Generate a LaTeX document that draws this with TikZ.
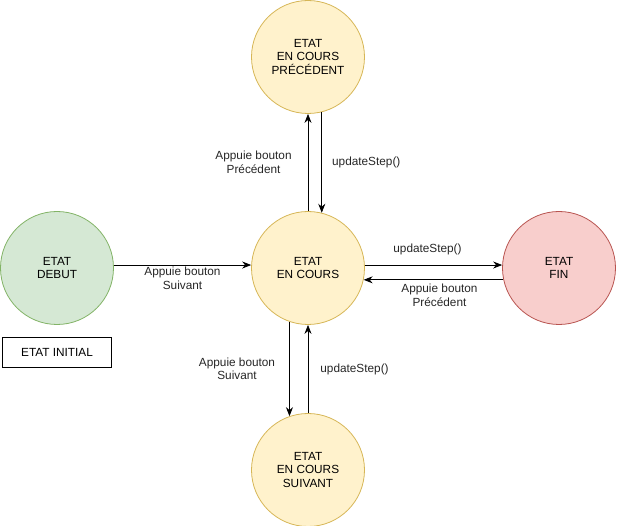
\documentclass[tikz,border=0pt]{standalone}
\usepackage{fontspec}
\setmainfont{Liberation Sans}
\usetikzlibrary{
    arrows.meta, % for the arrow tips
    positioning % for placing nodes relative to other nodes
}

\definecolor{yellowfill}{HTML}{FFF2CC}
\definecolor{yellowdraw}{HTML}{D6B656}
\definecolor{greenfill}{HTML}{D5E8D4}
\definecolor{greendraw}{HTML}{82B366}
\definecolor{redfill}{HTML}{F8CECC}
\definecolor{reddraw}{HTML}{B85450}

\begin{document}
\begin{tikzpicture}[
        on grid,>={Stealth[length=9pt,width=7pt]},
        font=\fontsize{11.8pt}{13.5pt}\selectfont,
        state/.style         = {circle,minimum size=113pt,inner sep=0pt,align=center,line width=0.8pt},
        current state/.style = {state,draw=yellowdraw,fill=yellowfill},
        start state/.style   = {state,draw=greendraw,fill=greenfill},
        end state/.style     = {state,draw=reddraw,fill=redfill},
        step label/.style    = {align=center,inner sep=0pt,text=black!85},
        every edge/.style    = {draw,line width=0.8pt}
    ]
    \useasboundingbox (-308pt,268pt) rectangle (310pt,-258pt);

    % states
        \node [current state] (cur)                    {ETAT\\EN COURS};
        \node [current state] (prev) [above=211pt of cur] {ETAT\\EN COURS\\PRÉCÉDENT};
        \node [current state] (next) [below=202pt of cur] {ETAT\\EN COURS\\SUIVANT};
        \node [start state]   (debut) [left=251pt of cur]  {ETAT\\DEBUT};
        \node [end state]     (fin)   [right=251pt of cur] {ETAT\\FIN};
        \node [draw,line width=0.8pt,minimum width=109pt,minimum height=30pt]
              (initial) [below=84pt of debut] {ETAT INITIAL};

    % transitions
        \path [->] (debut.3) edge node [step label,below=2pt] {Appuie bouton\\Suivant} (cur.177)
                   (cur) edge node [step label,left=16pt] {Appuie bouton\\Précédent} (prev)
                   (prev.284) edge node [step label,right=10pt] {updateStep()} (cur.76)
                   (cur.3) edge node [step label,above=10pt,xshift=-6pt] {updateStep()} (fin.177)
                   (fin.192) edge node [step label,below=4pt,xshift=6pt] {Appuie bouton\\Précédent} (cur.348)
                   (cur.251) edge node [step label,left=14pt] {Appuie bouton\\Suivant} (next.109)
                   (next) edge node [step label,right=12pt] {updateStep()} (cur);

\end{tikzpicture}
\end{document}
